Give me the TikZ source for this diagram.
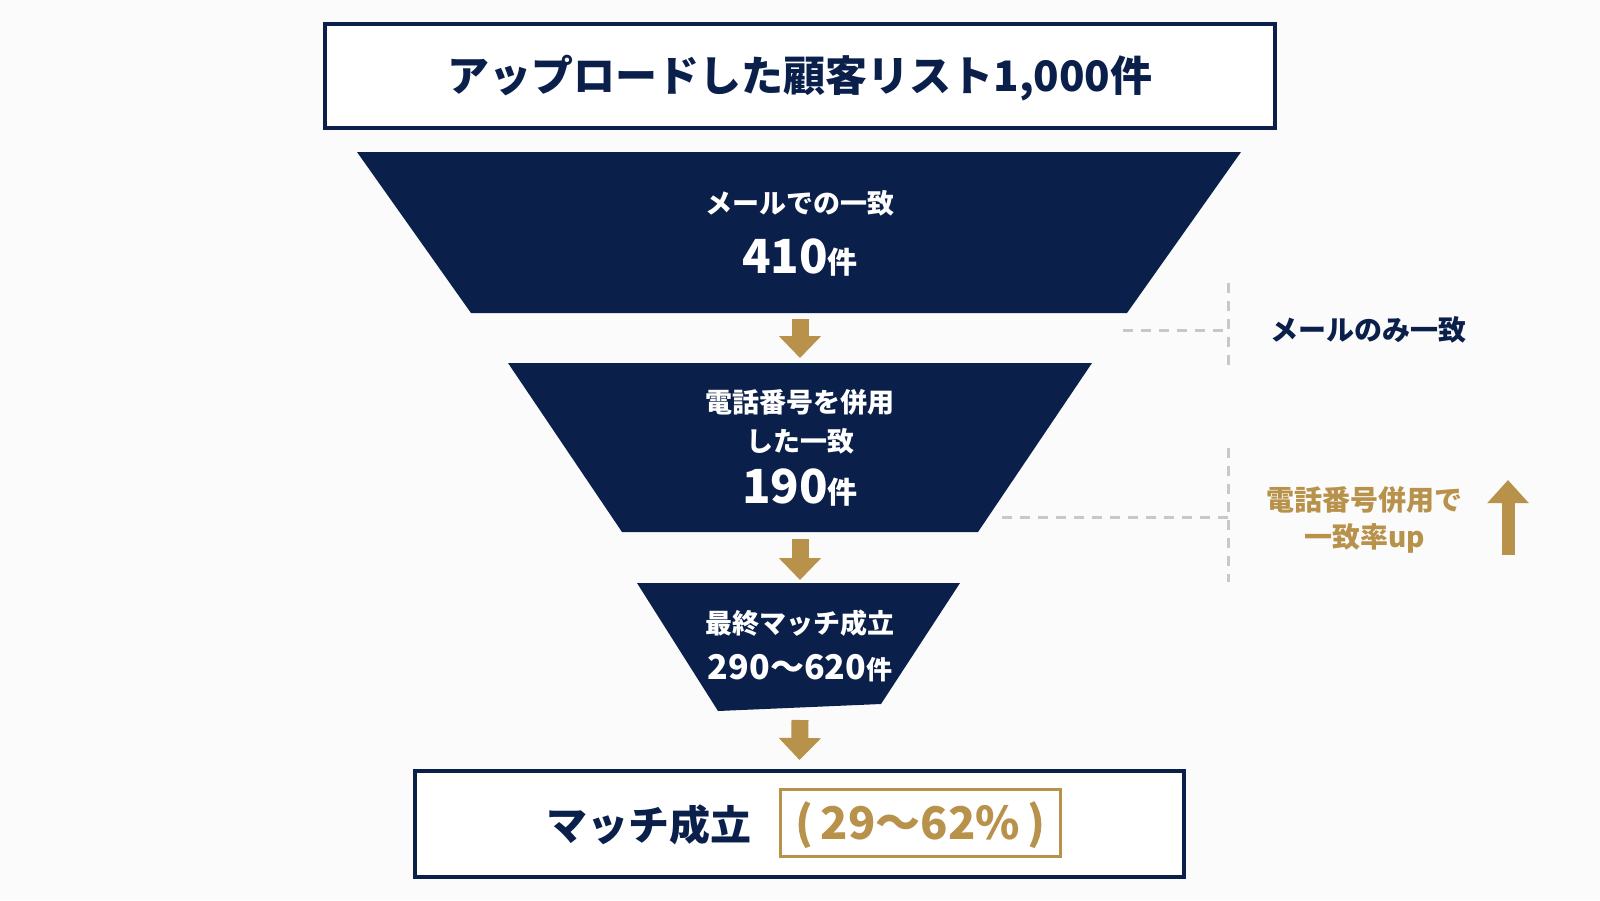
\documentclass[tikz,border=0pt]{standalone}
\usepackage{fontspec}
\setmainfont{Noto Sans CJK JP}
\usetikzlibrary{arrows.meta}
\definecolor{navy}{HTML}{0B1F4B}
\definecolor{gold}{HTML}{B8924A}
\definecolor{guidegray}{HTML}{C8C8C8}
\definecolor{paper}{HTML}{FBFBFB}
\tikzset{
	listbox/.style={draw=navy, line width=4pt, fill=white, inner sep=0pt},
	ratebox/.style={draw=gold, line width=3pt, fill=white, inner sep=0pt},
	funnel/.style={fill=navy},
	funneltext/.style={text=white, font=\bfseries\fontsize{27}{32}\selectfont, inner sep=0pt},
	flowarrow/.style={draw=gold, line width=17pt, -{Triangle[width=41pt,length=22pt]}},
	risearrow/.style={draw=gold, line width=13pt, -{Triangle[width=40pt,length=23pt]}},
	guide/.style={draw=guidegray, line width=3pt, dash pattern=on 10pt off 8pt},
}
\begin{document}
\begin{tikzpicture}[x=1pt, y=-1pt]
		\fill[paper] (0,0) rectangle (1600,900);
		\useasboundingbox (0,0) rectangle (1600,900);
		\node[listbox, minimum width=950pt, minimum height=104pt] (upload) at (800,76) {};
		\node[text=navy, font=\bfseries\fontsize{42}{46}\selectfont] (uploadtext) at (800,78) {アップロードした顧客リスト1,000件};
		\fill[funnel] (357,152) -- (1241,152) -- (1127,313) -- (471,313) -- cycle;
		\coordinate (mailtop) at (800,152);
		\coordinate (mailbot) at (800,313);
		\node[funneltext] (mailname) at (800,203) {メールでの一致};
		\node[funneltext] (mailcount) at (800,258) {\fontsize{47}{50}\selectfont 410\fontsize{30}{34}\selectfont 件};
		\fill[funnel] (508,363) -- (1092,363) -- (978,532) -- (622,532) -- cycle;
		\coordinate (phonetop) at (800,363);
		\coordinate (phonebot) at (800,532);
		\node[funneltext] (phonename) at (800,402) {電話番号を併用};
		\node[funneltext] (phonename2) at (800,441) {した一致};
		\node[funneltext] (phonecount) at (800,488) {\fontsize{47}{50}\selectfont 190\fontsize{30}{34}\selectfont 件};
		\fill[funnel] (637,583) -- (960,583) -- (881,704) -- (718,711) -- cycle;
		\coordinate (finaltop) at (800,583);
		\coordinate (finalbot) at (800,707);
		\node[funneltext] (finalname) at (800,623) {最終マッチ成立};
		\node[funneltext] (finalcount) at (800,668) {\fontsize{34}{38}\selectfont 290～620\fontsize{26}{30}\selectfont 件};
		\node[listbox, minimum width=769pt, minimum height=106pt] (match) at (799.5,824) {};
		\node[text=navy, font=\bfseries\fontsize{41}{45}\selectfont] (matchtext) at (649,825) {マッチ成立};
		\node[ratebox, minimum width=280pt, minimum height=67pt] (rate) at (920.5,823) {};
		\node[text=gold, font=\bfseries\fontsize{45}{48}\selectfont] (ratetext) at (920.5,825) {(\,29～62\%\,)};
		\draw[flowarrow] ([yshift=-6pt]mailbot) -- ([yshift=5pt]phonetop);
		\draw[flowarrow] ([yshift=-7pt]phonebot) -- ([yshift=3pt]finaltop);
		\draw[flowarrow] (800,720) -- ([yshift=9pt]match.north);
		\coordinate (mailbar) at (1228,330);
		\coordinate (phonebar) at (1228,517);
		\draw[guide] (1228,283) -- (1228,372);
		\draw[guide] (1123,330) -- (mailbar);
		\draw[guide] (1228,448) -- (1228,582);
		\draw[guide] (1002,517) -- (phonebar);
		\node[text=navy, font=\bfseries\fontsize{28}{32}\selectfont] (mailonly) at (1368,330) {メールのみ一致};
		\node[text=gold, font=\bfseries\fontsize{28}{32}\selectfont] (phoneup) at (1364,500) {電話番号併用で};
		\node[text=gold, font=\bfseries\fontsize{28}{32}\selectfont] (phoneup2) at (1365,538) {一致率up};
		\coordinate (risebase) at (1508,555);
		\coordinate (risetip) at (1508,480);
		\draw[risearrow] (risebase) -- (risetip);
	\end{tikzpicture}
\end{document}
